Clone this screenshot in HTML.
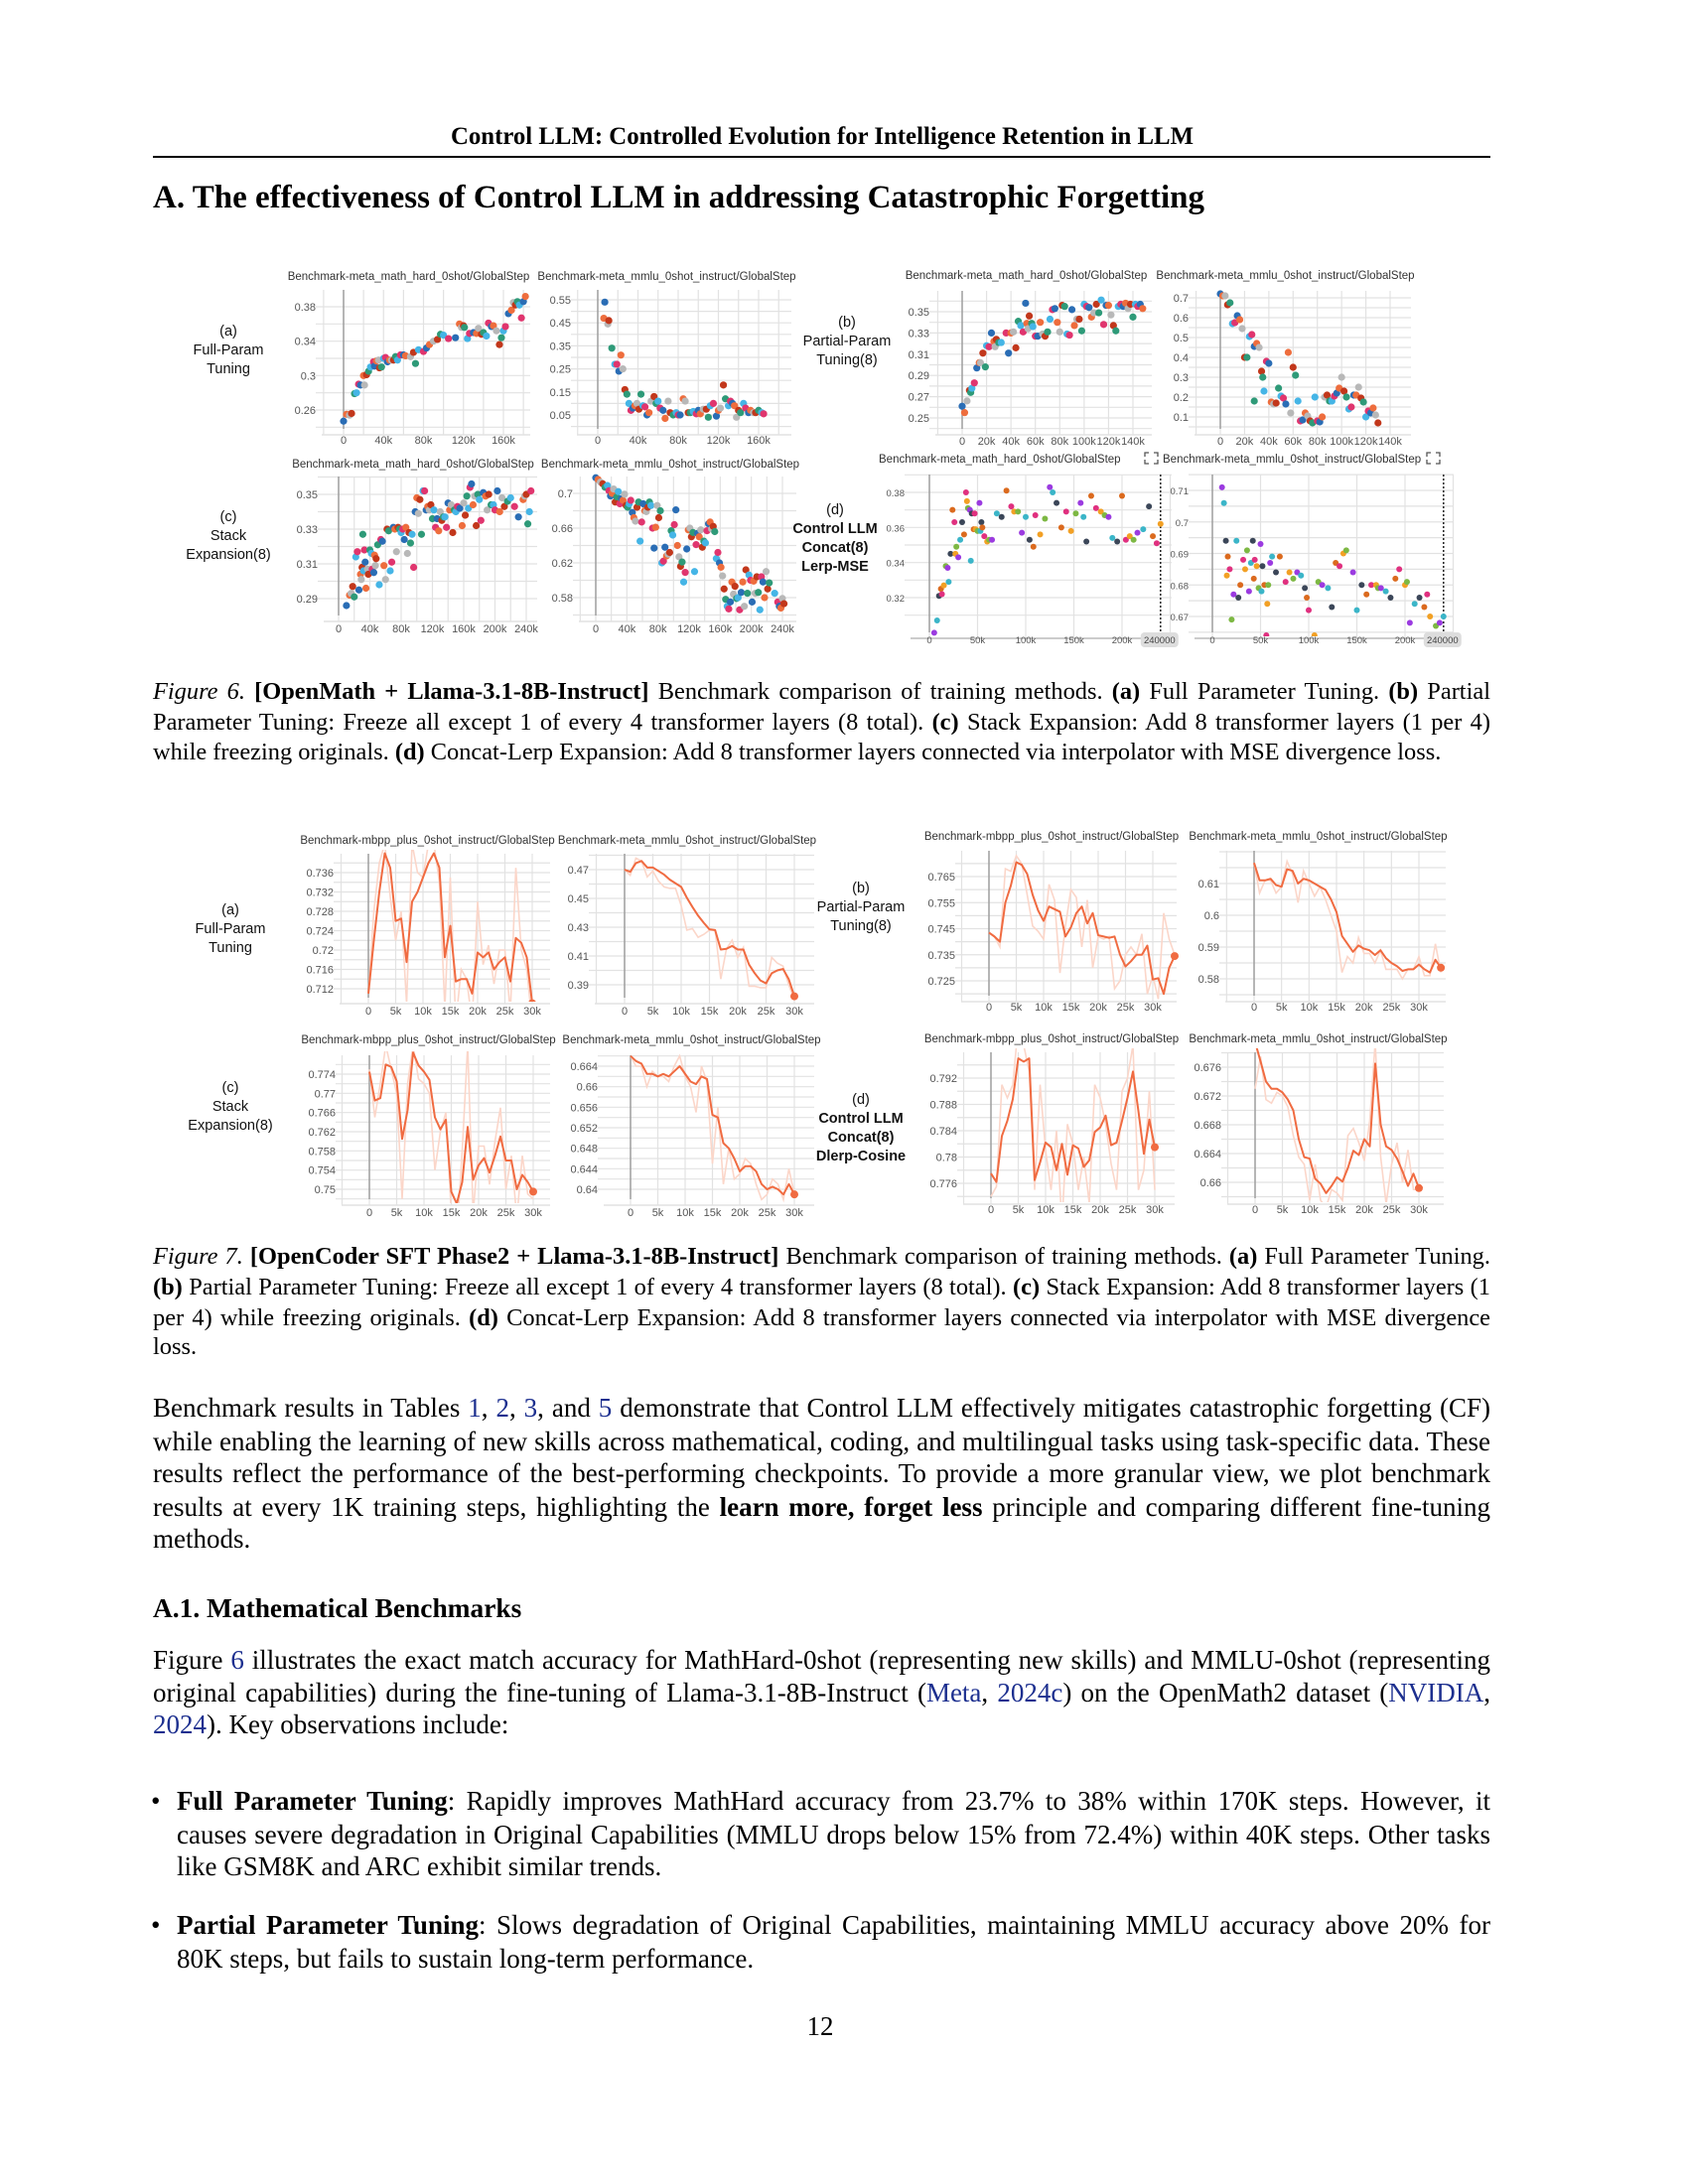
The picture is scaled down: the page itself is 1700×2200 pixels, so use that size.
<!DOCTYPE html>
<html><head><meta charset="utf-8">
<style>
body{margin:0;background:#fff;}
#page{position:relative;width:1700px;height:2200px;overflow:hidden;font-family:"Liberation Serif",serif;color:#000;}
.ln{position:absolute;left:154px;width:1347px;height:33px;line-height:33px;font-size:27px;white-space:nowrap;text-align:justify;text-align-last:justify;}
.cap{font-size:24.4px;}
.last{text-align:left;text-align-last:left;}
.lk{color:#1c2f8f;}
.pl{position:absolute;font-family:"Liberation Sans",sans-serif;font-size:14.5px;line-height:19px;text-align:center;color:#111;}
svg text{font-family:"Liberation Sans",sans-serif;}
</style></head>
<body>
<div id="page">
<div style="position:absolute;left:0;width:1656px;top:124px;text-align:center;font-weight:bold;font-size:24.8px;">Control LLM: Controlled Evolution for Intelligence Retention in LLM</div>
<div style="position:absolute;left:154px;width:1347px;top:157px;height:2px;background:#000;"></div>
<div style="position:absolute;left:154px;top:181px;font-weight:bold;font-size:33px;white-space:nowrap;">A. The effectiveness of Control LLM in addressing Catastrophic Forgetting</div>

<svg id="charts" width="1700" height="1400" style="position:absolute;left:0;top:0;"></svg>

<div class="pl" style="left:170px;width:120px;top:325px;">(a)<br>Full-Param<br>Tuning</div>
<div class="pl" style="left:170px;width:120px;top:512px;">(c)<br>Stack<br>Expansion(8)</div>
<div class="pl" style="left:793px;width:120px;top:316px;">(b)<br>Partial-Param<br>Tuning(8)</div>
<div class="pl" style="left:781px;width:120px;top:505px;">(d)<br><b>Control LLM<br>Concat(8)<br>Lerp-MSE</b></div>
<div class="pl" style="left:172px;width:120px;top:908px;">(a)<br>Full-Param<br>Tuning</div>
<div class="pl" style="left:172px;width:120px;top:1087px;">(c)<br>Stack<br>Expansion(8)</div>
<div class="pl" style="left:807px;width:120px;top:886px;">(b)<br>Partial-Param<br>Tuning(8)</div>
<div class="pl" style="left:807px;width:120px;top:1099px;">(d)<br><b>Control LLM<br>Concat(8)<br>Dlerp-Cosine</b></div>

<div>
<div class="ln cap" style="top:680px;"><i>Figure 6.</i> <b>[OpenMath + Llama-3.1-8B-Instruct]</b> Benchmark comparison of training methods. <b>(a)</b> Full Parameter Tuning. <b>(b)</b> Partial</div>
<div class="ln cap" style="top:711px;">Parameter Tuning: Freeze all except 1 of every 4 transformer layers (8 total). <b>(c)</b> Stack Expansion: Add 8 transformer layers (1 per 4)</div>
<div class="ln cap last" style="top:741px;">while freezing originals. <b>(d)</b> Concat-Lerp Expansion: Add 8 transformer layers connected via interpolator with MSE divergence loss.</div>
</div>
<div>
<div class="ln cap" style="top:1249px;"><i>Figure 7.</i> <b>[OpenCoder SFT Phase2 + Llama-3.1-8B-Instruct]</b> Benchmark comparison of training methods. <b>(a)</b> Full Parameter Tuning.</div>
<div class="ln cap" style="top:1280px;"><b>(b)</b> Partial Parameter Tuning: Freeze all except 1 of every 4 transformer layers (8 total). <b>(c)</b> Stack Expansion: Add 8 transformer layers (1</div>
<div class="ln cap" style="top:1311px;">per 4) while freezing originals. <b>(d)</b> Concat-Lerp Expansion: Add 8 transformer layers connected via interpolator with MSE divergence</div>
<div class="ln cap last" style="top:1340px;">loss.</div>
</div>
<div>
<div class="ln" style="top:1402px;">Benchmark results in Tables <span class="lk">1</span>, <span class="lk">2</span>, <span class="lk">3</span>, and <span class="lk">5</span> demonstrate that Control LLM effectively mitigates catastrophic forgetting (CF)</div>
<div class="ln" style="top:1436px;">while enabling the learning of new skills across mathematical, coding, and multilingual tasks using task-specific data. These</div>
<div class="ln" style="top:1468px;">results reflect the performance of the best-performing checkpoints. To provide a more granular view, we plot benchmark</div>
<div class="ln" style="top:1502px;">results at every 1K training steps, highlighting the <b>learn more, forget less</b> principle and comparing different fine-tuning</div>
<div class="ln last" style="top:1534px;">methods.</div>
</div>
<div style="position:absolute;left:154px;top:1604px;font-weight:bold;font-size:27.4px;line-height:33px;">A.1. Mathematical Benchmarks</div>
<div>
<div class="ln" style="top:1656px;">Figure <span class="lk">6</span> illustrates the exact match accuracy for MathHard-0shot (representing new skills) and MMLU-0shot (representing</div>
<div class="ln" style="top:1689px;">original capabilities) during the fine-tuning of Llama-3.1-8B-Instruct (<span class="lk">Meta</span>, <span class="lk">2024c</span>) on the OpenMath2 dataset (<span class="lk">NVIDIA</span>,</div>
<div class="ln last" style="top:1721px;"><span class="lk">2024</span>). Key observations include:</div>
</div>
<div>
<div style="position:absolute;left:152px;top:1798px;font-size:27px;line-height:33px;">•</div>
<div class="ln" style="left:178px;width:1323px;top:1798px;"><b>Full Parameter Tuning</b>: Rapidly improves MathHard accuracy from 23.7% to 38% within 170K steps. However, it</div>
<div class="ln" style="left:178px;width:1323px;top:1832px;">causes severe degradation in Original Capabilities (MMLU drops below 15% from 72.4%) within 40K steps. Other tasks</div>
<div class="ln last" style="left:178px;width:1323px;top:1864px;">like GSM8K and ARC exhibit similar trends.</div>
</div>
<div>
<div style="position:absolute;left:152px;top:1923px;font-size:27px;line-height:33px;">•</div>
<div class="ln" style="left:178px;width:1323px;top:1923px;"><b>Partial Parameter Tuning</b>: Slows degradation of Original Capabilities, maintaining MMLU accuracy above 20% for</div>
<div class="ln last" style="left:178px;width:1323px;top:1957px;">80K steps, but fails to sustain long-term performance.</div>
</div>
<div style="position:absolute;left:0;width:1652px;top:2025px;text-align:center;font-size:27px;line-height:33px;">12</div>
</div>

<script>
// ---------- DATA: Figure 6 scatter series ([step in k, score]) ----------
const f6aMath=[[0,.247],[3,.255],[6,.254],[8,.256],[11,.279],[13,.280],[15,.290],[17,.289],[20,.300],[21,.289],[23,.301],[25,.305],[27,.310],[30,.316],[31,.311],[33,.317],[35,.318],[36,.309],[38,.310],[40,.320],[42,.321],[44,.316],[46,.318],[48,.318],[50,.318],[52,.322],[54,.318],[57,.324],[60,.324],[62,.323],[67,.322],[70,.327],[72,.314],[75,.330],[80,.328],[83,.332],[86,.336],[90,.340],[94,.342],[97,.348],[100,.347],[105,.343],[112,.344],[116,.360],[118,.356],[120,.358],[121,.356],[124,.343],[126,.349],[130,.350],[133,.349],[135,.355],[138,.348],[140,.350],[143,.346],[145,.361],[148,.357],[150,.358],[153,.352],[156,.336],[158,.344],[160,.352],[162,.357],[165,.372],[168,.376],[170,.385],[172,.382],[174,.386],[176,.382],[178,.367],[180,.386],[182,.392]];
const f6aMmlu=[[7,.54],[6,.47],[10,.445],[11,.46],[14,.34],[17,.27],[19,.27],[21,.24],[23,.31],[25,.25],[27,.16],[29,.14],[31,.10],[33,.07],[35,.08],[37,.09],[39,.10],[41,.075],[43,.14],[45,.09],[47,.085],[49,.05],[51,.06],[53,.11],[56,.13],[58,.10],[60,.11],[62,.08],[65,.07],[67,.035],[70,.11],[72,.06],[75,.05],[78,.06],[80,.05],[82,.05],[85,.12],[87,.11],[90,.06],[92,.06],[95,.065],[98,.055],[100,.07],[102,.055],[105,.075],[108,.075],[110,.04],[112,.09],[115,.10],[118,.045],[120,.07],[122,.08],[125,.18],[127,.12],[130,.09],[132,.11],[134,.10],[136,.09],[138,.04],[140,.07],[142,.06],[145,.10],[147,.08],[150,.06],[152,.07],[155,.06],[157,.06],[160,.07],[163,.06],[165,.055]];
const f6bMath=[[0,.261],[2,.255],[4,.266],[6,.276],[7,.274],[8,.278],[10,.283],[12,.297],[14,.302],[15,.302],[17,.311],[19,.298],[20,.318],[22,.317],[24,.330],[26,.322],[27,.317],[28,.324],[30,.321],[32,.321],[36,.330],[38,.311],[40,.330],[42,.331],[44,.316],[46,.341],[48,.337],[50,.331],[52,.358],[53,.339],[54,.334],[55,.346],[57,.339],[58,.336],[60,.327],[62,.327],[64,.340],[66,.329],[68,.327],[70,.331],[72,.343],[74,.352],[76,.353],[78,.340],[80,.331],[82,.356],[84,.355],[86,.329],[88,.328],[90,.352],[92,.337],[94,.343],[96,.343],[98,.332],[100,.357],[102,.355],[104,.354],[106,.345],[108,.349],[110,.357],[112,.349],[114,.361],[116,.338],[118,.356],[120,.356],[122,.347],[124,.337],[126,.332],[128,.355],[130,.357],[132,.355],[134,.358],[136,.353],[138,.357],[140,.345],[142,.357],[144,.355],[146,.357],[148,.353]];
const f6bMmlu=[[0,.72],[2,.71],[4,.71],[6,.665],[8,.675],[10,.57],[12,.575],[14,.61],[16,.59],[18,.545],[20,.40],[22,.40],[24,.505],[26,.515],[28,.455],[30,.47],[32,.45],[34,.33],[35,.30],[36,.23],[38,.38],[40,.37],[42,.175],[44,.165],[46,.17],[48,.245],[50,.205],[52,.195],[54,.165],[56,.425],[58,.12],[60,.35],[62,.31],[64,.18],[66,.08],[68,.085],[70,.12],[72,.105],[74,.08],[76,.07],[78,.20],[80,.08],[82,.075],[84,.10],[86,.20],[88,.21],[90,.18],[92,.18],[94,.205],[96,.22],[98,.245],[100,.30],[102,.23],[104,.20],[106,.14],[108,.15],[110,.21],[112,.21],[114,.25],[116,.195],[118,.175],[120,.10],[122,.13],[124,.12],[126,.145],[128,.11],[130,.07],[28,.18]];
const f6cMath=[[10,.286],[14,.292],[16,.293],[18,.297],[20,.291],[22,.314],[24,.317],[26,.295],[28,.304],[29,.301],[30,.308],[31,.327],[32,.306],[33,.318],[34,.311],[35,.296],[37,.307],[38,.304],[40,.318],[42,.316],[43,.307],[45,.305],[46,.315],[47,.309],[48,.313],[50,.321],[52,.298],[54,.324],[56,.323],[58,.309],[60,.301],[62,.330],[64,.329],[66,.306],[68,.311],[70,.331],[72,.330],[74,.317],[76,.331],[78,.330],[80,.328],[82,.330],[84,.324],[86,.331],[88,.316],[90,.328],[92,.322],[94,.327],[96,.308],[98,.340],[100,.348],[102,.339],[104,.347],[106,.327],[108,.352],[110,.352],[112,.341],[114,.343],[116,.341],[118,.344],[120,.336],[122,.341],[124,.331],[126,.336],[128,.329],[130,.340],[132,.335],[134,.337],[136,.337],[138,.331],[140,.345],[142,.341],[144,.344],[146,.328],[148,.341],[150,.340],[152,.343],[155,.342],[158,.332],[160,.345],[162,.338],[164,.349],[166,.342],[168,.354],[170,.356],[172,.344],[174,.349],[176,.332],[178,.350],[180,.347],[182,.335],[185,.351],[188,.349],[190,.341],[192,.350],[195,.344],[198,.344],[200,.341],[203,.352],[206,.340],[209,.348],[212,.343],[216,.346],[220,.348],[225,.343],[230,.337],[236,.347],[238,.349],[240,.350],[242,.333],[244,.340],[246,.352]];
const f6cMmlu=[[0,.718],[3,.716],[6,.713],[9,.711],[12,.707],[15,.709],[17,.703],[19,.697],[21,.700],[23,.705],[25,.690],[27,.696],[29,.702],[31,.688],[33,.694],[35,.692],[37,.699],[39,.686],[41,.684],[43,.688],[45,.692],[47,.678],[49,.672],[51,.668],[53,.684],[55,.690],[57,.645],[59,.667],[61,.688],[63,.680],[65,.679],[67,.684],[69,.690],[71,.686],[73,.660],[75,.637],[77,.661],[79,.686],[81,.672],[83,.680],[85,.620],[87,.622],[89,.638],[91,.628],[93,.630],[95,.632],[97,.657],[99,.652],[101,.664],[103,.681],[105,.640],[107,.627],[109,.616],[111,.621],[113,.598],[115,.609],[117,.636],[119,.658],[121,.660],[123,.650],[125,.655],[127,.610],[129,.641],[131,.654],[133,.650],[135,.658],[137,.638],[139,.645],[141,.643],[143,.657],[145,.665],[147,.667],[149,.659],[151,.662],[153,.656],[155,.625],[157,.632],[159,.620],[161,.615],[163,.605],[165,.590],[167,.578],[169,.570],[171,.567],[173,.575],[175,.598],[177,.584],[179,.593],[181,.579],[183,.580],[185,.566],[187,.586],[189,.598],[191,.570],[193,.612],[195,.585],[197,.606],[199,.600],[201,.575],[203,.599],[205,.585],[207,.604],[209,.586],[211,.566],[213,.604],[215,.598],[217,.580],[219,.610],[221,.590],[223,.597],[230,.585],[234,.575],[236,.570],[238,.568],[240,.579],[242,.573]];
const f6dMath=[[5,.300],[8,.307],[10,.321],[12,.325],[13,.322],[15,.327],[17,.338],[19,.337],[20,.329],[22,.345],[24,.370],[26,.363],[27,.345],[28,.349],[30,.343],[32,.353],[34,.363],[36,.356],[38,.380],[39,.375],[40,.371],[42,.370],[43,.341],[44,.368],[46,.359],[47,.368],[48,.359],[50,.358],[52,.374],[53,.358],[54,.363],[55,.360],[57,.355],[60,.352],[62,.353],[65,.353],[70,.368],[75,.366],[80,.381],[85,.372],[88,.369],[92,.369],[96,.357],[100,.366],[104,.353],[108,.349],[110,.367],[115,.356],[120,.365],[125,.383],[128,.380],[132,.374],[137,.360],[142,.369],[147,.358],[152,.368],[157,.374],[160,.366],[163,.352],[168,.378],[173,.371],[178,.369],[182,.367],[186,.366],[190,.354],[195,.352],[200,.378],[204,.353],[208,.355],[212,.353],[216,.357],[222,.359],[228,.372],[232,.355],[236,.351],[240,.362]];
const f6dMmlu=[[10,.711],[12,.706],[14,.694],[16,.689],[18,.685],[15,.683],[20,.669],[22,.677],[25,.694],[27,.676],[29,.680],[32,.688],[34,.685],[36,.691],[38,.678],[40,.687],[42,.694],[43,.682],[44,.688],[46,.686],[48,.679],[50,.693],[51,.678],[52,.686],[54,.680],[56,.664],[57,.674],[58,.680],[60,.687],[62,.689],[66,.684],[70,.689],[76,.681],[80,.684],[84,.682],[88,.684],[92,.683],[96,.679],[98,.676],[100,.672],[106,.664],[110,.681],[114,.680],[120,.679],[124,.673],[128,.687],[132,.686],[136,.690],[139,.691],[146,.684],[150,.672],[155,.680],[160,.677],[165,.680],[170,.680],[172,.679],[175,.679],[180,.678],[185,.676],[190,.682],[194,.685],[200,.680],[202,.681],[205,.668],[210,.674],[215,.676],[220,.673],[223,.677],[226,.670],[232,.667],[236,.668],[240,.670]];

// ---------- DATA: Figure 7 line series (step in k) ----------
const steps30=[0,1,2,3,4,5,6,7,8,9,10,11,12,13,14,15,16,17,18,19,20,21,22,23,24,25,26,27,28,29,30];
const steps34=[0,1,2,3,4,5,6,7,8,9,10,11,12,13,14,15,16,17,18,19,20,21,22,23,24,25,26,27,28,29,30,31,32,33,34];
const f7aMbppSmooth=[.711,.722,.732,.740,.737,.726,.7265,.7175,.730,.732,.735,.738,.740,.737,.7185,.725,.7135,.714,.714,.711,.7195,.7185,.7195,.716,.7175,.7185,.7135,.7225,.7215,.7185,.709];
const f7aMbppRaw=[.711,.728,.738,.742,.731,.722,.728,.709,.742,.736,.735,.742,.742,.734,.708,.735,.705,.716,.714,.705,.730,.717,.721,.713,.720,.720,.707,.737,.720,.716,.705];
const f7aMmluSmooth=[.470,.4685,.4745,.476,.4715,.4715,.469,.4665,.463,.4605,.458,.4505,.444,.438,.433,.4285,.428,.4145,.415,.417,.4145,.4145,.404,.398,.393,.391,.398,.400,.401,.394,.382];
const f7aMmluRaw=[.470,.466,.478,.476,.465,.469,.462,.458,.457,.457,.445,.428,.429,.423,.425,.428,.428,.394,.415,.421,.409,.416,.389,.389,.388,.388,.409,.405,.403,.390,.380];
const f7cMbppSmooth=[.7745,.7685,.769,.776,.7755,.7725,.7605,.7665,.7785,.7758,.7745,.7728,.765,.7625,.7645,.7495,.747,.7515,.763,.752,.755,.7565,.7535,.757,.761,.756,.756,.750,.753,.7515,.7495];
const f7cMbppRaw=[.775,.765,.772,.780,.775,.770,.748,.772,.780,.773,.772,.770,.754,.762,.766,.745,.740,.758,.780,.745,.759,.759,.751,.760,.767,.750,.757,.744,.757,.749,.748];
const f7cMmluSmooth=[.666,.665,.6645,.6625,.6625,.662,.6625,.662,.663,.664,.6625,.661,.6605,.662,.6615,.6545,.654,.649,.648,.646,.6435,.6445,.6445,.6435,.641,.640,.6405,.640,.639,.641,.639];
const f7cMmluRaw=[.666,.664,.664,.660,.663,.662,.662,.661,.664,.666,.662,.660,.655,.664,.661,.645,.656,.641,.648,.642,.643,.646,.645,.641,.638,.639,.642,.641,.638,.644,.639];
const f7bMbppSmooth=[.7435,.742,.740,.755,.7615,.7705,.7695,.766,.758,.752,.748,.7535,.7525,.7515,.742,.7455,.751,.7535,.747,.751,.7425,.742,.7415,.742,.735,.7305,.7325,.735,.735,.7385,.7255,.726,.720,.730,.7345];
const f7bMbppRaw=[.7435,.742,.738,.768,.767,.773,.770,.758,.746,.744,.741,.762,.756,.728,.746,.760,.757,.738,.756,.730,.742,.741,.742,.722,.725,.735,.738,.735,.743,.720,.727,.718,.751,.741,.735];
const f7bMmluSmooth=[.6165,.611,.611,.6115,.6095,.609,.6145,.614,.610,.6115,.611,.610,.609,.608,.605,.601,.5935,.591,.5885,.5905,.5895,.589,.5875,.589,.5865,.585,.584,.5825,.583,.583,.5845,.583,.582,.586,.5835];
const f7bMmluRaw=[.6165,.607,.611,.611,.607,.609,.617,.613,.604,.614,.610,.606,.609,.605,.600,.595,.582,.587,.585,.593,.588,.588,.585,.589,.583,.583,.583,.580,.583,.583,.587,.581,.581,.591,.582];
const f7dMbppSmooth=[.7775,.7762,.7832,.7855,.7888,.7950,.7945,.7950,.7765,.7792,.7822,.7815,.7780,.7820,.7773,.7818,.7813,.7785,.7795,.7838,.7845,.7863,.7818,.7822,.7855,.7890,.7930,.7870,.7805,.7857,.7815];
const f7dMbppRaw=[.774,.7755,.791,.789,.791,.800,.797,.793,.775,.791,.781,.775,.784,.770,.785,.782,.775,.780,.773,.791,.789,.785,.779,.775,.790,.792,.797,.775,.778,.790,.775];
const f7dMmluSmooth=[.6795,.6768,.6740,.6730,.6730,.6725,.6715,.6700,.6660,.6635,.6633,.6605,.6598,.6585,.6595,.6607,.6601,.6620,.6644,.6638,.6660,.6650,.6765,.6680,.6650,.6645,.6633,.6615,.6595,.6612,.6592];
const f7dMmluRaw=[.673,.6775,.6715,.671,.6725,.672,.6705,.6665,.6635,.6625,.6575,.6625,.6575,.6565,.659,.6585,.6575,.6665,.6675,.6655,.6630,.6685,.6795,.6635,.6570,.6625,.6655,.6600,.6645,.6590,.6590];

// ---------- tick values & labels ----------
const xT_160=[0,40,80,120,160]; const xL_160=['0','40k','80k','120k','160k'];
const xT_140=[0,20,40,60,80,100,120,140]; const xL_140=['0','20k','40k','60k','80k','100k','120k','140k'];
const xT_240=[0,40,80,120,160,200,240]; const xL_240=['0','40k','80k','120k','160k','200k','240k'];
const xT_200=[0,50,100,150,200]; const xL_200=['0','50k','100k','150k','200k'];
const xT_30=[0,5,10,15,20,25,30]; const xL_30=['0','5k','10k','15k','20k','25k','30k'];
const yT_6aMath=[.26,.3,.34,.38]; const yL_6aMath=['0.26','0.3','0.34','0.38'];
const yT_6aMmlu=[.05,.15,.25,.35,.45,.55]; const yL_6aMmlu=['0.05','0.15','0.25','0.35','0.45','0.55'];
const yT_6bMath=[.25,.27,.29,.31,.33,.35]; const yL_6bMath=['0.25','0.27','0.29','0.31','0.33','0.35'];
const yT_6bMmlu=[.1,.2,.3,.4,.5,.6,.7]; const yL_6bMmlu=['0.1','0.2','0.3','0.4','0.5','0.6','0.7'];
const yT_6cMath=[.29,.31,.33,.35]; const yL_6cMath=['0.29','0.31','0.33','0.35'];
const yT_6cMmlu=[.58,.62,.66,.7]; const yL_6cMmlu=['0.58','0.62','0.66','0.7'];
const yT_6dMath=[.32,.34,.36,.38]; const yL_6dMath=['0.32','0.34','0.36','0.38'];
const yT_6dMmlu=[.67,.68,.69,.7,.71]; const yL_6dMmlu=['0.67','0.68','0.69','0.7','0.71'];
const yT_7aMbpp=[.712,.716,.72,.724,.728,.732,.736]; const yL_7aMbpp=['0.712','0.716','0.72','0.724','0.728','0.732','0.736'];
const yT_7aMmlu=[.39,.41,.43,.45,.47]; const yL_7aMmlu=['0.39','0.41','0.43','0.45','0.47'];
const yT_7cMbpp=[.75,.754,.758,.762,.766,.77,.774]; const yL_7cMbpp=['0.75','0.754','0.758','0.762','0.766','0.77','0.774'];
const yT_7cMmlu=[.64,.644,.648,.652,.656,.66,.664]; const yL_7cMmlu=['0.64','0.644','0.648','0.652','0.656','0.66','0.664'];
const yT_7bMbpp=[.725,.735,.745,.755,.765]; const yL_7bMbpp=['0.725','0.735','0.745','0.755','0.765'];
const yT_7bMmlu=[.58,.59,.6,.61]; const yL_7bMmlu=['0.58','0.59','0.6','0.61'];
const yT_7dMbpp=[.776,.78,.784,.788,.792]; const yL_7dMbpp=['0.776','0.78','0.784','0.788','0.792'];
const yT_7dMmlu=[.66,.664,.668,.672,.676]; const yL_7dMmlu=['0.66','0.664','0.668','0.672','0.676'];

const palette=['#2a6db5','#45b5e6','#c2371b','#ee6d3d','#e0356e','#2e9a78','#b8b8b8'];
const paletteD=['#9b3be0','#f2a024','#db6a1e','#3bb5c8','#7db843','#e0307f','#3b4658'];

const NS='http://www.w3.org/2000/svg';
const root=document.getElementById('charts');
function mk(tag,parent,attrs){const e=document.createElementNS(NS,tag);for(const k in attrs)e.setAttribute(k,attrs[k]);parent.appendChild(e);return e;}
function lin(a){return v=>a[1]+(v-a[0])*(a[3]-a[1])/(a[2]-a[0]);}
function inv(a){return p=>a[0]+(p-a[1])*(a[2]-a[0])/(a[3]-a[1]);}
let clipN=0;

function drawChart(c){
  const g=mk('g',root,{});
  
  
  const X=lin(c.xr),Y=lin(c.yr),Xi=inv(c.xr),Yi=inv(c.yr);
  const [x1,y1,x2,y2]=c.box;
  const gx0=Math.ceil(Xi(x1)/c.xg),gx1=Math.floor(Xi(x2)/c.xg);
  for(let k=gx0;k<=gx1;k++){const px=X(k*c.xg);
    const l=mk('line',g,{x1:px,x2:px,y1:y1,y2:y2+6,stroke:'#e2e2e2','stroke-width':1.2});
    
    }
  const gy0=Math.ceil(Math.min(Yi(y1),Yi(y2))/c.yg-1e-6),gy1=Math.floor(Math.max(Yi(y1),Yi(y2))/c.yg+1e-6);
  for(let k=gy0;k<=gy1;k++){const py=Y(k*c.yg);
    const l=mk('line',g,{x1:x1-6,x2:x2,y1:py,y2:py,stroke:'#e2e2e2','stroke-width':1.2});
    
    }
  const ax=mk('line',g,{x1:x1,x2:x2,y1:y2+6,y2:y2+6,stroke:c.d?'#bbb':'#e2e2e2','stroke-width':1.5});
  
  
  const z=mk('line',g,{x1:X(0),x2:X(0),y1:y1,y2:y2,stroke:'#9a9a9a','stroke-width':1.4});
  
  
  c.xt.forEach((v,i)=>{const t=mk('text',g,{x:X(v),y:c.ly,'text-anchor':'middle','font-size':c.d?9.5:11,fill:'#555'});t.textContent=c.xl[i];
    
    });
  c.yt.forEach((v,i)=>{const t=mk('text',g,{x:x1-6,y:Y(v)+4,'text-anchor':'end','font-size':c.d?9.5:11,fill:'#555'});t.textContent=c.yl[i];
    
    });
  const tt=c.d?mk('text',g,{x:x1-32,y:c.ty,'text-anchor':'start','font-size':11.5,fill:'#333'})
              :mk('text',g,{x:(x1-35+x2)/2,y:c.ty,'text-anchor':'middle','font-size':11.5,fill:'#333'});
  tt.textContent=c.title;
  
  
  if(c.d){
    const dl=mk('line',g,{x1:X(240),x2:X(240),y1:y1,y2:y2+6,stroke:'#111','stroke-width':1.4,'stroke-dasharray':'2,2'});
    
    
    const bx=mk('rect',g,{x:X(240)-20,y:c.ly-11,width:38,height:15,rx:4,fill:'#ddd'});
    
    
    const bt=mk('text',g,{x:X(240)-1,y:c.ly,'text-anchor':'middle','font-size':9.5,fill:'#444'});bt.textContent='240000';
    
    
    const ix=x2-27;
    const ic=mk('path',g,{d:`M${ix} ${c.ty-6}v-4h4M${ix+9} ${c.ty-10}h4v4M${ix} ${c.ty-3}v4h4M${ix+9} ${c.ty+1}h4v-4`,stroke:'#555','stroke-width':1.3,fill:'none'});
    
    
  }
  const id='cl'+(clipN++);
  const cp=mk('clipPath',g,{id:id});mk('rect',cp,{x:x1,y:y1-4,width:x2-x1+6,height:y2-y1+8});
  const mg=mk('g',g,{'clip-path':`url(#${id})`});
  
  
  if(c.pts){
    const pal=c.d?paletteD:palette;
    c.pts.forEach((p,i)=>{const ci=mk('circle',mg,{cx:X(p[0]),cy:Y(p[1]),r:c.d?3:3.6,fill:pal[(i*3)%7]});
      
      });
  } else {
    const raw=mk('path',mg,{d:c.steps.map((s,i)=>(i?'L':'M')+X(s)+' '+Y(c.raw[i])).join(''),stroke:'#fbd6c9',fill:'none','stroke-width':1.6});
    
    
    const sm=mk('path',mg,{d:c.steps.map((s,i)=>(i?'L':'M')+X(s)+' '+Y(c.sm[i])).join(''),stroke:'#f06b41',fill:'none','stroke-width':2,'stroke-linejoin':'round'});
    
    
    const n=c.steps.length-1;
    const ed=mk('circle',mg,{cx:X(c.steps[n]),cy:Y(c.sm[n]),r:4,fill:'#f06b41'});
    
    
  }
}

const T_MATH='Benchmark-meta_math_hard_0shot/GlobalStep', T_MMLU='Benchmark-meta_mmlu_0shot_instruct/GlobalStep', T_MBPP='Benchmark-mbpp_plus_0shot_instruct/GlobalStep';
const charts=[
 {name:'fig6a-math-chart',title:T_MATH,box:[324,292,534,432],xr:[0,346,160,507],yr:[.38,309,.26,413],xg:20,yg:.02,xt:xT_160,xl:xL_160,yt:yT_6aMath,yl:yL_6aMath,ly:447,ty:282,pts:f6aMath},
 {name:'fig6a-mmlu-chart',title:T_MMLU,box:[581,292,797,432],xr:[0,602,160,764],yr:[.55,302,.05,418],xg:20,yg:.05,xt:xT_160,xl:xL_160,yt:yT_6aMmlu,yl:yL_6aMmlu,ly:447,ty:282,pts:f6aMmlu},
 {name:'fig6b-math-chart',title:T_MATH,box:[942,293,1160,432],xr:[0,969,140,1141],yr:[.35,314,.25,421],xg:20,yg:.01,xt:xT_140,xl:xL_140,yt:yT_6bMath,yl:yL_6bMath,ly:448,ty:281,pts:f6bMath},
 {name:'fig6b-mmlu-chart',title:T_MMLU,box:[1203,293,1421,432],xr:[0,1229,140,1400],yr:[.7,300,.1,420],xg:20,yg:.05,xt:xT_140,xl:xL_140,yt:yT_6bMmlu,yl:yL_6bMmlu,ly:448,ty:281,pts:f6bMmlu},
 {name:'fig6c-math-chart',title:T_MATH,box:[326,480,541,620],xr:[0,341,240,530],yr:[.35,498,.29,603],xg:20,yg:.01,xt:xT_240,xl:xL_240,yt:yT_6cMath,yl:yL_6cMath,ly:637,ty:471,pts:f6cMath},
 {name:'fig6c-mmlu-chart',title:T_MMLU,box:[583,480,802,620],xr:[0,600,240,788],yr:[.7,497,.58,602],xg:20,yg:.02,xt:xT_240,xl:xL_240,yt:yT_6cMmlu,yl:yL_6cMmlu,ly:637,ty:471,pts:f6cMmlu},
 {name:'fig6d-math-chart',title:T_MATH,box:[917,478,1180,637],xr:[0,936,200,1130],yr:[.38,496,.32,602],xg:50,yg:.01,xt:xT_200,xl:xL_200,yt:yT_6dMath,yl:yL_6dMath,ly:648,ty:466,pts:f6dMath,d:true},
 {name:'fig6d-mmlu-chart',title:T_MMLU,box:[1203,478,1464,637],xr:[0,1221,200,1415],yr:[.71,494,.67,621],xg:50,yg:.005,xt:xT_200,xl:xL_200,yt:yT_6dMmlu,yl:yL_6dMmlu,ly:648,ty:466,pts:f6dMmlu,d:true},
 {name:'fig7a-mbpp-chart',title:T_MBPP,box:[342,860,554,1005],xr:[0,371,30,536],yr:[.736,879,.712,996],xg:5,yg:.002,xt:xT_30,xl:xL_30,yt:yT_7aMbpp,yl:yL_7aMbpp,ly:1022,ty:850,steps:steps30,sm:f7aMbppSmooth,raw:f7aMbppRaw},
 {name:'fig7a-mmlu-chart',title:T_MMLU,box:[599,860,820,1005],xr:[0,629,30,800],yr:[.47,876,.39,992],xg:5,yg:.01,xt:xT_30,xl:xL_30,yt:yT_7aMmlu,yl:yL_7aMmlu,ly:1022,ty:850,steps:steps30,sm:f7aMmluSmooth,raw:f7aMmluRaw},
 {name:'fig7c-mbpp-chart',title:T_MBPP,box:[344,1063,554,1208],xr:[0,372,30,537],yr:[.774,1082,.75,1198],xg:5,yg:.002,xt:xT_30,xl:xL_30,yt:yT_7cMbpp,yl:yL_7cMbpp,ly:1225,ty:1051,steps:steps30,sm:f7cMbppSmooth,raw:f7cMbppRaw},
 {name:'fig7c-mmlu-chart',title:T_MMLU,box:[608,1063,820,1208],xr:[0,635,30,800],yr:[.664,1074,.64,1198],xg:5,yg:.002,xt:xT_30,xl:xL_30,yt:yT_7cMmlu,yl:yL_7cMmlu,ly:1225,ty:1051,steps:steps30,sm:f7cMmluSmooth,raw:f7cMmluRaw},
 {name:'fig7b-mbpp-chart',title:T_MBPP,box:[968,857,1185,1003],xr:[0,996,30,1161],yr:[.765,883,.725,988],xg:5,yg:.005,xt:xT_30,xl:xL_30,yt:yT_7bMbpp,yl:yL_7bMbpp,ly:1018,ty:846,steps:steps34,sm:f7bMbppSmooth,raw:f7bMbppRaw},
 {name:'fig7b-mmlu-chart',title:T_MMLU,box:[1234,857,1456,1003],xr:[0,1263,30,1429],yr:[.61,890,.58,986],xg:5,yg:.005,xt:xT_30,xl:xL_30,yt:yT_7bMmlu,yl:yL_7bMmlu,ly:1018,ty:846,steps:steps34,sm:f7bMmluSmooth,raw:f7bMmluRaw},
 {name:'fig7d-mbpp-chart',title:T_MBPP,box:[970,1060,1183,1207],xr:[0,998,30,1163],yr:[.792,1086,.776,1192],xg:5,yg:.002,xt:xT_30,xl:xL_30,yt:yT_7dMbpp,yl:yL_7dMbpp,ly:1222,ty:1050,steps:steps30,sm:f7dMbppSmooth,raw:f7dMbppRaw},
 {name:'fig7d-mmlu-chart',title:T_MMLU,box:[1236,1060,1454,1207],xr:[0,1264,30,1429],yr:[.676,1075,.66,1191],xg:5,yg:.002,xt:xT_30,xl:xL_30,yt:yT_7dMmlu,yl:yL_7dMmlu,ly:1222,ty:1050,steps:steps30,sm:f7dMmluSmooth,raw:f7dMmluRaw}
];
charts.forEach(drawChart);
</script>
</body></html>
